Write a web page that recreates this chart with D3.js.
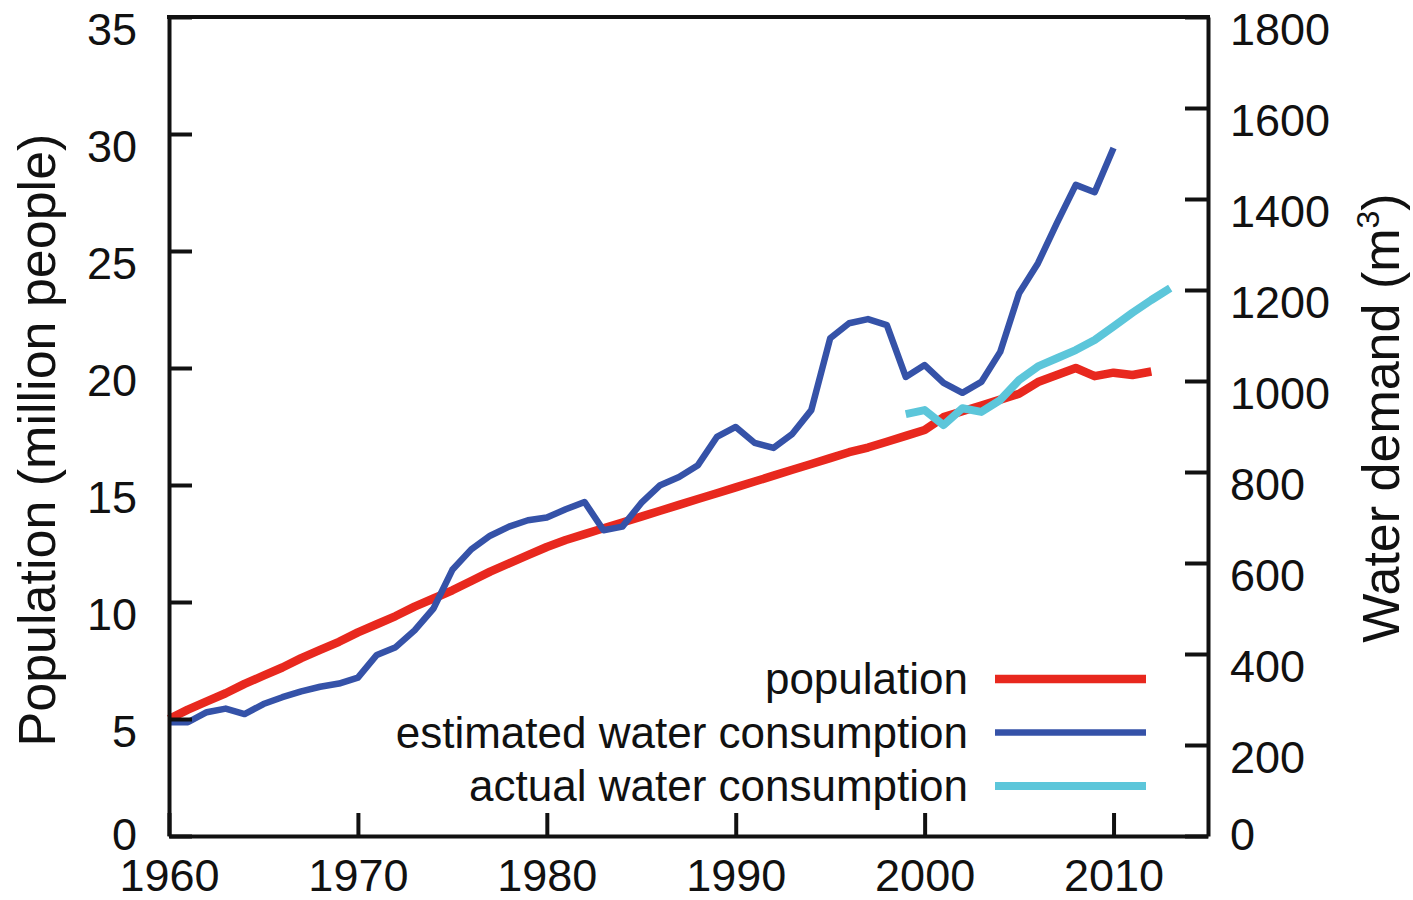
<!DOCTYPE html>
<html>
<head>
<meta charset="utf-8">
<script src="https://cdn.jsdelivr.net/npm/d3@7"></script>
<style>
	html, body { margin: 0; padding: 0; background: #fff; }
	svg text { font-family: "Liberation Sans", Arial, Helvetica, sans-serif; fill: #111; }
</style>
</head>
<body>
<div id="chart"></div>
<script>
// data
const years = d3.range(1960, 2013);
const population = [5.0, 5.4, 5.75, 6.1, 6.5, 6.85, 7.2, 7.6, 7.95, 8.3,
	8.7, 9.05, 9.4, 9.8, 10.15, 10.5, 10.9, 11.3, 11.65, 12.0,
	12.35, 12.65, 12.9, 13.15, 13.4, 13.65, 13.9, 14.15, 14.4, 14.65,
	14.9, 15.15, 15.4, 15.65, 15.9, 16.15, 16.4, 16.6, 16.85, 17.1,
	17.35, 17.9, 18.15, 18.4, 18.65, 18.9, 19.4, 19.7, 20.0, 19.65,
	19.8, 19.7, 19.85];
const estYears = d3.range(1960, 2011);
const estimated = [250, 250, 272, 280, 268, 290, 305, 318, 328, 335,
	348, 398, 415, 452, 500, 585, 630, 660, 680, 694,
	700, 718, 734, 672, 680, 732, 771, 789, 815, 877,
	899, 864, 853, 884, 936, 1094, 1127, 1136, 1123, 1009,
	1035, 996, 974, 998, 1064, 1193, 1259, 1347, 1431, 1415,
	1512];
const actYears = d3.range(1999, 2014);
const actual = [927, 936, 903, 940, 932, 958, 1002, 1032, 1050, 1068, 1090, 1120, 1150, 1178, 1204];

const xTicks = [1960, 1970, 1980, 1990, 2000, 2010];
const leftTicks = [0, 5, 10, 15, 20, 25, 30, 35];
const rightTicks = [0, 200, 400, 600, 800, 1000, 1200, 1400, 1600, 1800];
const legendLabels = ['population', 'estimated water consumption', 'actual water consumption'];
const colors = ['#e8281e', '#3552a8', '#5cc6da'];
const widths = [8.5, 6.5, 8];

const W = 1413, H = 900;
const m = {top: 17, right: 205, bottom: 64, left: 169};
const width = W - m.left - m.right,
	height = H - m.top - m.bottom;

const svg = d3.select('#chart').append('svg')
	.attr('width', W)
	.attr('height', H);

const g = svg.append('g')
	.attr('transform', 'translate(' + m.left + ',' + m.top + ')');

const x = d3.scaleLinear().domain([1960, 2015]).range([0, width]),
	yL = d3.scaleLinear().domain([0, 35]).range([height, 0]),
	yR = d3.scaleLinear().domain([0, 1800]).range([height, 0]);

// series
const linePop = d3.line().x((d, i) => x(years[i])).y(d => yL(d));
const lineEst = d3.line().x((d, i) => x(estYears[i])).y(d => yR(d));
const lineAct = d3.line().x((d, i) => x(actYears[i])).y(d => yR(d));

g.append('path').datum(population)
	.attr('d', linePop).attr('fill', 'none')
	.attr('stroke', colors[0]).attr('stroke-width', widths[0]).attr('stroke-linejoin', 'round');
g.append('path').datum(estimated)
	.attr('d', lineEst).attr('fill', 'none')
	.attr('stroke', colors[1]).attr('stroke-width', widths[1]).attr('stroke-linejoin', 'round');
g.append('path').datum(actual)
	.attr('d', lineAct).attr('fill', 'none')
	.attr('stroke', colors[2]).attr('stroke-width', widths[2]).attr('stroke-linejoin', 'round');

// axes
const axisFont = 45;
const styleAxis = sel => {
	sel.selectAll('path.domain').attr('stroke', '#111').attr('stroke-width', 4);
	sel.selectAll('.tick line').attr('stroke', '#111').attr('stroke-width', 4);
	sel.selectAll('.tick text').attr('font-size', axisFont).style('fill', '#111');
	sel.attr('font-family', null).attr('font-size', null);
};

g.append('g')
	.attr('transform', 'translate(0,' + height + ')')
	.call(d3.axisBottom(x).tickValues(xTicks).tickFormat(d3.format('d'))
		.tickSizeInner(-23).tickSizeOuter(0).tickPadding(23))
	.call(styleAxis);

// zero labels sit a bit higher so they clear the year labels
g.append('g')
	.call(d3.axisLeft(yL).tickValues(leftTicks)
		.tickSizeInner(-23).tickSizeOuter(0).tickPadding(32))
	.call(styleAxis)
	.selectAll('.tick text').attr('dy', d => d === 0 ? '0.3em' : '0.6em');

g.append('g')
	.attr('transform', 'translate(' + width + ',0)')
	.call(d3.axisRight(yR).tickValues(rightTicks).tickFormat(d3.format('d'))
		.tickSizeInner(-23).tickSizeOuter(0).tickPadding(22))
	.call(styleAxis)
	.selectAll('.tick text').attr('dy', d => d === 0 ? '0.3em' : '0.6em');

// top border
g.append('line')
	.attr('x1', -2).attr('x2', width + 2)
	.attr('y1', 0).attr('y2', 0)
	.attr('stroke', '#111').attr('stroke-width', 4);

// axis titles
svg.append('text')
	.attr('transform', 'translate(55,' + 440 + ') rotate(-90)')
	.attr('text-anchor', 'middle')
	.attr('font-size', 52)
	.text('Population (million people)');

const rt = svg.append('text')
	.attr('transform', 'translate(1399,' + 418 + ') rotate(-90)')
	.attr('text-anchor', 'middle')
	.attr('font-size', 52);
rt.append('tspan').text('Water demand (m');
rt.append('tspan').attr('font-size', 32).attr('dy', -20).text('3');
rt.append('tspan').attr('dy', 20).text(')');

// legend
const legend = g.append('g');
const lg = legend.selectAll('g')
	.data(legendLabels)
	.enter()
	.append('g')
	.attr('transform', (d, i) => 'translate(0,' + (662 + i * 53.5) + ')');
lg.append('text')
	.attr('x', 799)
	.attr('dy', '0.35em')
	.attr('text-anchor', 'end')
	.attr('font-size', 44)
	.text(d => d);
lg.append('line')
	.attr('x1', 826).attr('x2', 977)
	.attr('stroke', (d, i) => colors[i])
	.attr('stroke-width', (d, i) => widths[i]);
</script>
</body>
</html>
